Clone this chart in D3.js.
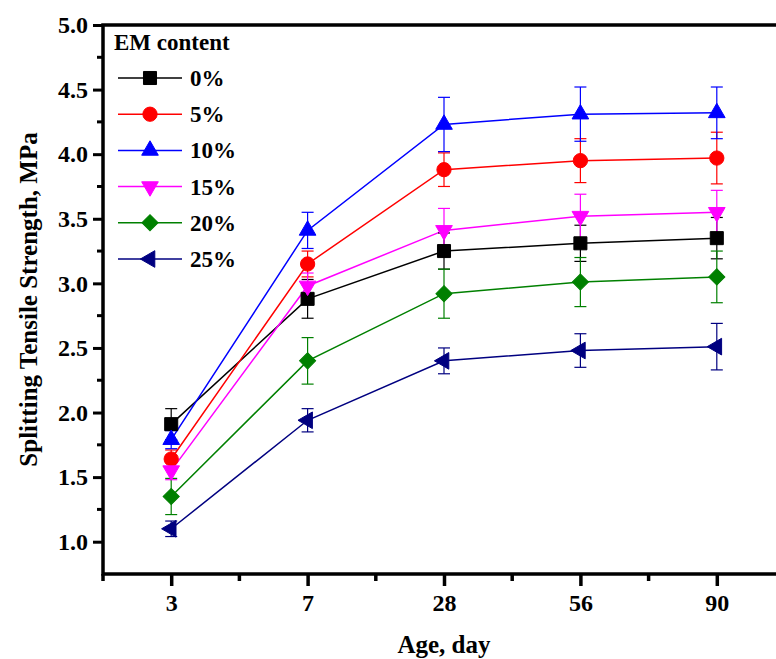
<!DOCTYPE html>
<html>
<head>
<meta charset="utf-8">
<script src="https://cdn.jsdelivr.net/npm/d3@7"></script>
<style>
  html, body { margin: 0; padding: 0; background: #fff; }
  svg { display: block; }
  text { font-family: "Liberation Serif", "Times New Roman", serif; font-weight: bold; fill: #000; }
</style>
</head>
<body>
<svg id="chart" width="776" height="659"></svg>
<script>
// Curing ages (categorical x axis)
const ages = ["3", "7", "28", "56", "90"];

// Series: EM content percentage
const seriesNames = ["0%", "5%", "10%", "15%", "20%", "25%"];
const seriesColors = ["#000000", "#ff0000", "#0000ff", "#ff00ff", "#008000", "#000080"];
const seriesSymbols = ["square", "circle", "triangleUp", "triangleDown", "diamond", "triangleLeft"];

// Mean splitting tensile strength (MPa) per age
const em0  = [1.91, 2.88, 3.25, 3.31, 3.35];
const em5  = [1.64, 3.15, 3.88, 3.95, 3.97];
const em10 = [1.79, 3.41, 4.23, 4.31, 4.32];
const em15 = [1.55, 2.98, 3.41, 3.52, 3.55];
const em20 = [1.35, 2.40, 2.92, 3.01, 3.05];
const em25 = [1.10, 1.94, 2.40, 2.48, 2.51];

// Standard deviations (MPa)
const sd0  = [0.12, 0.15, 0.14, 0.14, 0.16];
const sd5  = [0.07, 0.10, 0.13, 0.17, 0.20];
const sd10 = [0.07, 0.14, 0.21, 0.21, 0.20];
const sd15 = [0.07, 0.10, 0.17, 0.17, 0.17];
const sd20 = [0.14, 0.18, 0.19, 0.19, 0.20];
const sd25 = [0.06, 0.09, 0.10, 0.13, 0.18];

const yTicks = [1.0, 1.5, 2.0, 2.5, 3.0, 3.5, 4.0, 4.5, 5.0];
const legendTitle = "EM content";
const xTitle = "Age, day";
const yTitle = "Splitting Tensile Strength, MPa";

const means = [em0, em5, em10, em15, em20, em25];
const sds = [sd0, sd5, sd10, sd15, sd20, sd25];
const series = seriesNames.map((name, i) => ({
  name, color: seriesColors[i], symbol: seriesSymbols[i],
  points: ages.map((a, j) => ({ age: a, v: means[i][j], sd: sds[i][j] }))
}));

const svg = d3.select("#chart");
const plotLeft = 103, plotRight = 785, plotTop = 25, plotBottom = 574;

const x = d3.scalePoint().domain(ages).range([plotLeft, plotRight]).padding(0.5);
const y = d3.scaleLinear().domain([0.75, 5.0]).range([plotBottom, plotTop]);

function symbolPath(type) {
  const map = {
    square: [d3.symbolSquare, 170, 0],
    circle: [d3.symbolCircle, 160, 0],
    triangleUp: [d3.symbolTriangle, 120, 0],
    triangleDown: [d3.symbolTriangle, 120, 180],
    diamond: [d3.symbolSquare, 130, 45],
    triangleLeft: [d3.symbolTriangle, 120, -90]
  };
  const [t, size, rot] = map[type];
  return { d: d3.symbol().type(t).size(size)(), rot };
}

const plot = svg.append("g");

// connecting lines
const line = d3.line().x(d => x(d.age)).y(d => y(d.v));
plot.selectAll("path.series").data(series).join("path")
  .attr("class", "series")
  .attr("d", d => line(d.points))
  .attr("fill", "none")
  .attr("stroke", d => d.color)
  .attr("stroke-width", 1.5);

// error bars
const cap = 6;
series.forEach(s => {
  const g = plot.append("g").attr("stroke", s.color).attr("stroke-width", 1.2).attr("fill", "none");
  s.points.forEach(p => {
    const cx = x(p.age), y1 = y(p.v + p.sd), y2 = y(p.v - p.sd);
    g.append("line").attr("x1", cx).attr("x2", cx).attr("y1", y1).attr("y2", y2);
    g.append("line").attr("x1", cx - cap).attr("x2", cx + cap).attr("y1", y1).attr("y2", y1);
    g.append("line").attr("x1", cx - cap).attr("x2", cx + cap).attr("y1", y2).attr("y2", y2);
  });
});

// markers
series.forEach(s => {
  const sp = symbolPath(s.symbol);
  plot.append("g").selectAll("path").data(s.points).join("path")
    .attr("d", sp.d)
    .attr("transform", p => `translate(${x(p.age)},${y(p.v)}) rotate(${sp.rot})`)
    .attr("fill", s.color)
    .attr("stroke", s.color)
    .attr("stroke-width", 1);
});

// axes
const yAxis = svg.append("g").attr("transform", `translate(${plotLeft},0)`)
  .call(d3.axisLeft(y).tickValues(yTicks).tickFormat(d3.format(".1f")).tickSize(10).tickPadding(5));
yAxis.select(".domain").remove();
yAxis.selectAll(".tick line").attr("stroke", "#000").attr("stroke-width", 3);
yAxis.selectAll(".tick text").style("font-size", "24px").style("font-family", "Liberation Serif").style("font-weight", "bold");

// y minor ticks
const yMinor = d3.range(1.25, 5.0, 0.5);
svg.append("g").selectAll("line").data(yMinor).join("line")
  .attr("x1", plotLeft - 6).attr("x2", plotLeft)
  .attr("y1", d => y(d)).attr("y2", d => y(d))
  .attr("stroke", "#000").attr("stroke-width", 3);

const xAxis = svg.append("g").attr("transform", `translate(0,${plotBottom})`)
  .call(d3.axisBottom(x).tickSize(12).tickPadding(8));
xAxis.select(".domain").remove();
xAxis.selectAll(".tick line").attr("stroke", "#000").attr("stroke-width", 3.5);
xAxis.selectAll(".tick text").style("font-size", "24px").style("font-family", "Liberation Serif").style("font-weight", "bold");

// x minor ticks between categories
const xMinor = d3.range(0, ages.length).map(i => plotLeft + i * x.step());
svg.append("g").selectAll("line").data(xMinor).join("line")
  .attr("x1", d => d).attr("x2", d => d)
  .attr("y1", plotBottom).attr("y2", plotBottom + 7)
  .attr("stroke", "#000").attr("stroke-width", 3.5);

// frame
svg.append("rect")
  .attr("x", plotLeft).attr("y", plotTop)
  .attr("width", plotRight - plotLeft).attr("height", plotBottom - plotTop)
  .attr("fill", "none").attr("stroke", "#000").attr("stroke-width", 3.5);

// axis titles
svg.append("text")
  .attr("x", (plotLeft + plotRight) / 2).attr("y", 653)
  .attr("text-anchor", "middle")
  .style("font-size", "25px")
  .text(xTitle);

svg.append("text")
  .attr("transform", `translate(37,${(plotTop + plotBottom) / 2}) rotate(-90)`)
  .attr("text-anchor", "middle")
  .style("font-size", "25px")
  .text(yTitle);

// legend
const legend = svg.append("g");
legend.append("text").attr("x", 114).attr("y", 50).style("font-size", "23px").text(legendTitle);
series.forEach((s, i) => {
  const cy = 78 + i * 36.2;
  const row = legend.append("g");
  row.append("line").attr("x1", 118).attr("x2", 182).attr("y1", cy).attr("y2", cy)
    .attr("stroke", s.color).attr("stroke-width", 1.5);
  const sp = symbolPath(s.symbol);
  row.append("path").attr("d", sp.d)
    .attr("transform", `translate(150,${cy}) rotate(${sp.rot})`)
    .attr("fill", s.color).attr("stroke", s.color);
  row.append("text").attr("x", 190).attr("y", cy + 8).style("font-size", "23px").text(s.name);
});
</script>
</body>
</html>
